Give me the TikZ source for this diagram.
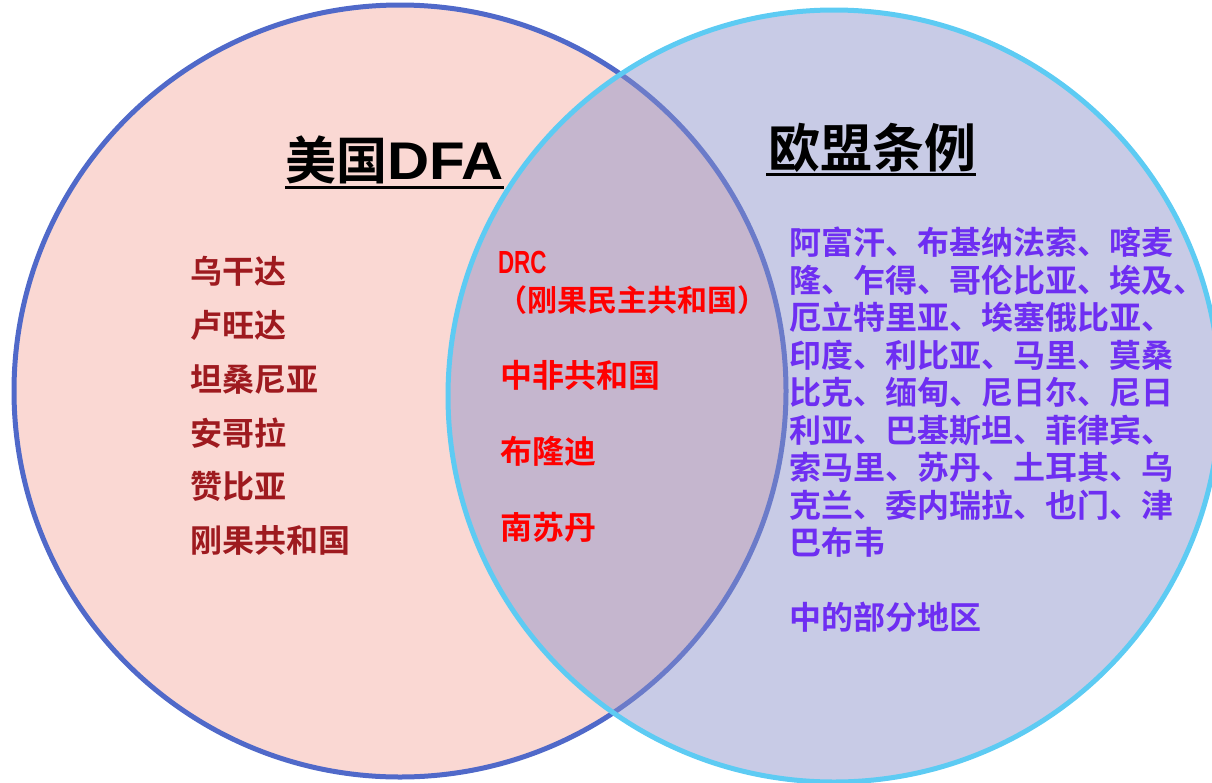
\documentclass[tikz,border=0pt]{standalone}
\usepackage{fontspec}
\setmainfont{Noto Sans CJK SC}[BoldFont={Noto Sans CJK SC Bold}]
\newfontfamily\latsans{Liberation Sans}
\definecolor{leftfill}{RGB}{250,216,211}
\definecolor{leftline}{RGB}{80,105,201}
\definecolor{rightline}{RGB}{93,203,243}
\definecolor{rightfill}{RGB}{138,145,202}
\definecolor{darkred}{RGB}{158,26,31}
\definecolor{brightred}{RGB}{255,0,0}
\definecolor{violet}{RGB}{110,46,242}
\tikzset{
  txt/.style={anchor=west, inner sep=0pt, outer sep=0pt},
  titleA/.style={txt, text height=42.3pt, text depth=3.6pt, font=\bfseries\fontsize{51}{60}\selectfont, text=black},
  titleB/.style={txt, text height=43.2pt, text depth=3.6pt, font=\bfseries\fontsize{52}{60}\selectfont, text=black},
  leftitem/.style={txt, text height=26.6pt, text depth=2.2pt, font=\bfseries\fontsize{32}{38}\selectfont, text=darkred},
  miditem/.style={txt, text height=26.6pt, text depth=2.2pt, font=\bfseries\fontsize{32}{38}\selectfont, text=brightred},
  rightitem/.style={txt, text height=26.6pt, text depth=2.2pt, font=\bfseries\fontsize{32}{38}\selectfont, text=violet},
  uline/.style={line width=3pt, draw=black}
}
\begin{document}
\begin{tikzpicture}[x=1pt,y=-1pt]
\useasboundingbox (0,0) rectangle (1212,782);
\clip (0,0) rectangle (1212,782);
% circles
\fill[leftfill] (400,391) circle (386);
\draw[leftline, line width=5pt] (400,391) circle (386);
\fill[rightfill, fill opacity=0.47] (834,396) circle (386);
\draw[rightline, line width=5pt] (834,396) circle (386);
% titles
\node[titleA] (t1) at (285,160.5) {美国{\latsans\fontsize{53}{60}\selectfont\scalebox{1.1}[1]{DFA}}};
\draw[uline] ([yshift=-4.5pt]t1.south west) -- ([yshift=-4.5pt]t1.south east);
\node[titleB] (t2) at (768,147.5) {欧盟条例};
\draw[uline] ([xshift=-2pt,yshift=-4pt]t2.south west) -- ([yshift=-4pt]t2.south east);
% left list
\node[leftitem] (l1) at (190,271.5) {乌干达};
\node[leftitem] (l2) at (190,325.3) {卢旺达};
\node[leftitem] (l3) at (190,379.1) {坦桑尼亚};
\node[leftitem] (l4) at (190,432.9) {安哥拉};
\node[leftitem] (l5) at (190,486.7) {赞比亚};
\node[leftitem] (l6) at (190,540.5) {刚果共和国};
% middle list
\node[miditem] (m1) at (498,261) {\latsans\scalebox{0.7}[1]{DRC}};
\node[miditem, font=\bfseries\fontsize{30}{36}\selectfont] (m2) at (497,299) {（刚果民主共和国）};
\node[miditem] (m3) at (500,375) {中非共和国};
\node[miditem] (m4) at (500,451) {布隆迪};
\node[miditem] (m5) at (500,527) {南苏丹};
% right list
\node[rightitem] (r1) at (789,242.5) {阿富汗、布基纳法索、喀麦};
\node[rightitem] (r2) at (789,280) {隆、乍得、哥伦比亚、埃及、};
\node[rightitem] (r3) at (789,317.5) {厄立特里亚、埃塞俄比亚、};
\node[rightitem] (r4) at (789,355) {印度、利比亚、马里、莫桑};
\node[rightitem] (r5) at (789,392.5) {比克、缅甸、尼日尔、尼日};
\node[rightitem] (r6) at (789,430) {利亚、巴基斯坦、菲律宾、};
\node[rightitem] (r7) at (789,467.5) {索马里、苏丹、土耳其、乌};
\node[rightitem] (r8) at (789,505) {克兰、委内瑞拉、也门、津};
\node[rightitem] (r9) at (789,542.5) {巴布韦};
\node[rightitem] (r10) at (789,617) {中的部分地区};
\end{tikzpicture}
\end{document}
